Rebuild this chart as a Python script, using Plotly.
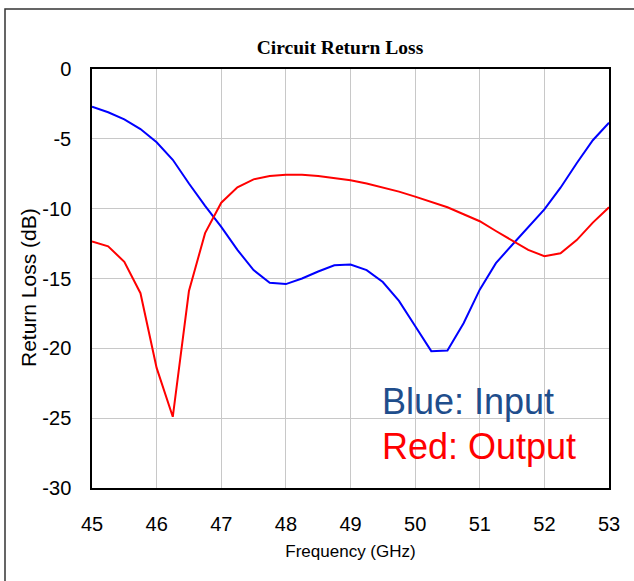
import plotly.graph_objects as go

freq = [45 + 0.25 * i for i in range(33)]
input_rl = [-2.7, -3.1, -3.6, -4.3, -5.25, -6.5, -8.2, -9.8, -11.3, -12.95, -14.4,
            -15.3, -15.4, -15.0, -14.5, -14.05, -14.0, -14.4, -15.25, -16.6, -18.4,
            -20.2, -20.15, -18.2, -15.8, -13.9, -12.6, -11.3, -10.05, -8.5, -6.75,
            -5.1, -3.85]
output_rl = [-12.35, -12.7, -13.8, -16.05, -21.4, -24.9, -15.9, -11.75, -9.57, -8.47,
             -7.9, -7.66, -7.57, -7.57, -7.66, -7.8, -7.97, -8.2, -8.5, -8.78, -9.14,
             -9.5, -9.9, -10.4, -10.9, -11.6, -12.3, -12.95, -13.4, -13.2, -12.25,
             -11.0, -9.9]
x_ticks = [45, 46, 47, 48, 49, 50, 51, 52, 53]
y_ticks = [0, -5, -10, -15, -20, -25, -30]

SANS = "Liberation Sans, Arial"

fig = go.Figure()
fig.add_trace(go.Scatter(x=freq, y=input_rl, mode="lines",
                         line=dict(color="#0000FF", width=2), name="Input"))
fig.add_trace(go.Scatter(x=freq, y=output_rl, mode="lines",
                         line=dict(color="#FF0000", width=2), name="Output"))

fig.update_layout(
    width=634, height=581,
    margin=dict(l=92, r=25, t=69, b=93),
    paper_bgcolor="white", plot_bgcolor="white",
    showlegend=False,
    title=dict(text="<b>Circuit Return Loss</b>", x=340 / 634, xanchor="center",
               y=1 - 47 / 581, yanchor="middle",
               font=dict(family="Liberation Serif, Times New Roman", size=19.5, color="black")),
    xaxis=dict(range=[45, 53], tickvals=x_ticks, ticktext=[str(v) for v in x_ticks],
               showgrid=True, gridcolor="#C8C8C8", gridwidth=1,
               showline=True, linecolor="black", linewidth=1.5, mirror=True,
               ticks="", ticklabelstandoff=17, zeroline=False,
               tickfont=dict(family=SANS, size=20, color="black"),
               title=dict(text="Frequency (GHz)", standoff=11,
                          font=dict(family=SANS, size=17, color="black"))),
    yaxis=dict(range=[-30, 0], tickvals=y_ticks, ticktext=[str(v) for v in y_ticks],
               showgrid=True, gridcolor="#C8C8C8", gridwidth=1,
               showline=True, linecolor="black", linewidth=1.5, mirror=True,
               ticks="", ticklabelstandoff=15, zeroline=False,
               tickfont=dict(family=SANS, size=20, color="black")),
)

# outer frame
fig.add_shape(type="rect", xref="paper", yref="paper",
              x0=(5 - 92) / 517, x1=1.2, y0=-0.4, y1=(488 - 9) / 419,
              line=dict(color="#333333", width=1.5), fillcolor="rgba(0,0,0,0)", layer="below")

# y-axis title
fig.add_annotation(x=(28 - 92) / 517, y=(488 - 288) / 419, xref="paper", yref="paper",
                   xanchor="center", yanchor="middle", showarrow=False, textangle=-90,
                   text="Return Loss (dB)", font=dict(family=SANS, size=21, color="black"))

fig.add_annotation(x=(380 - 92) / 517, y=(488 - 401) / 419, xref="paper", yref="paper",
                   xanchor="left", yanchor="middle", showarrow=False,
                   text="Blue: Input", font=dict(family=SANS, size=36, color="#1F4E8C"))
fig.add_annotation(x=(380 - 92) / 517, y=(488 - 446) / 419, xref="paper", yref="paper",
                   xanchor="left", yanchor="middle", showarrow=False,
                   text="Red: Output", font=dict(family=SANS, size=36, color="#FF0000"))

fig.write_html("out.html")
